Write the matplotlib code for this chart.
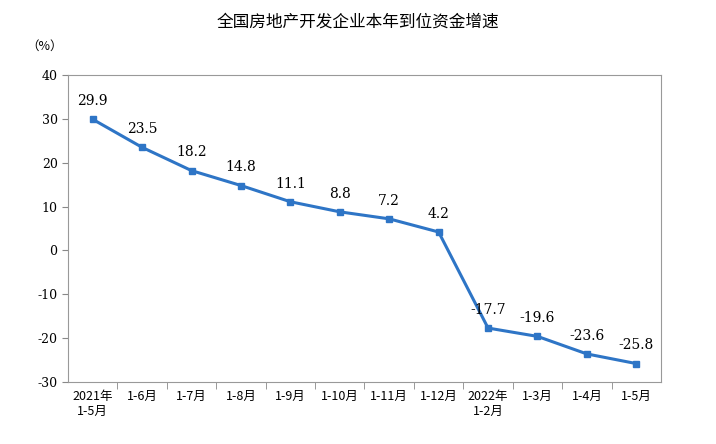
import matplotlib
matplotlib.use("Agg")
import matplotlib.pyplot as plt
from matplotlib.ticker import FixedLocator

categories = ["2021年\n1-5月", "1-6月", "1-7月", "1-8月", "1-9月", "1-10月", "1-11月", "1-12月",
              "2022年\n1-2月", "1-3月", "1-4月", "1-5月"]
values = [29.9, 23.5, 18.2, 14.8, 11.1, 8.8, 7.2, 4.2, -17.7, -19.6, -23.6, -25.8]
yticks = [40, 30, 20, 10, 0, -10, -20, -30]

plt.rcParams["font.family"] = "Noto Sans CJK SC"
fig = plt.figure(figsize=(7.16, 4.44), dpi=100)
ax = fig.add_axes([68/716, 1-382/444, (661-68)/716, (382-75)/444])
x = list(range(len(categories)))
ax.plot(x, values, color="#2e75c6", lw=2.2, marker="s", ms=5)
for xi, v in zip(x, values):
    ax.annotate(f"{v}", (xi, v), xytext=(0, 8), textcoords="offset points",
                ha="center", va="bottom", fontsize=10, family="DejaVu Serif")
ax.set_xlim(-0.5, 11.5)
ax.set_ylim(-30, 40)
ax.set_yticks(yticks)
ax.set_yticklabels([str(t) for t in yticks], fontsize=9, family="DejaVu Serif")
ax.set_xticks(x)
ax.set_xticklabels(categories, fontsize=9)
ax.tick_params(axis="x", length=0, pad=6)
ax.xaxis.set_minor_locator(FixedLocator([i + 0.5 for i in range(11)]))
ax.tick_params(axis="x", which="minor", length=5, direction="out", color="#888888")
ax.tick_params(axis="y", length=4, direction="out", color="#888888")
for s in ax.spines.values():
    s.set_color("#999999")
    s.set_linewidth(0.8)
fig.text(0.5, 1-22/444, "全国房地产开发企业本年到位资金增速", ha="center", va="center", fontsize=12)
fig.text(45/716, 1-46/444, "（%）", ha="center", va="center", fontsize=9)
fig.savefig("out.png", dpi=100)
